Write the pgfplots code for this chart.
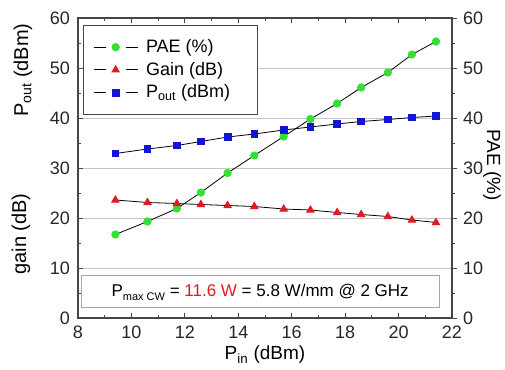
\documentclass[border=0pt]{standalone}
\usepackage{fontspec}
\setmainfont{Liberation Sans}
\usepackage{pgfplots}
\pgfplotsset{compat=1.18}
\definecolor{paegreen}{RGB}{50,225,50}
\definecolor{gainred}{RGB}{225,25,35}
\definecolor{poutblue}{RGB}{20,20,215}
\definecolor{axisgray}{RGB}{70,70,70}
\begin{document}
\fontsize{18bp}{21bp}\selectfont
\begin{tikzpicture}
\pgfplotsset{
  mylegimg/.style={legend image code/.code={
    \draw[black,line width=0.8pt] (0bp,0bp) -- (12bp,0bp);
    \draw[black,line width=0.8pt] (32bp,0bp) -- (44bp,0bp);
    \draw[##1] plot coordinates {(22bp,0bp)};}},
}
\begin{axis}[
  scale only axis, width=374bp, height=300bp,
  at={(0,0)}, anchor=south west,
  xmin=8, xmax=22, ymin=0, ymax=60,
  xtick={8,10,...,22}, ytick={0,10,...,60},
  minor x tick num=1, minor y tick num=1,
  tick align=inside, xtick pos=both, ytick pos=left,
  major tick length=5bp, minor tick length=3bp,
  axis line style={axisgray, line width=1.2pt},
  every tick/.style={axisgray, line width=0.9pt},
  ymajorgrids, grid style={gray!45, line width=0.8pt},
  tick label style={font=\fontsize{18bp}{21bp}\selectfont, text=black!85},
  /pgf/number format/assume math mode=true,
  xticklabel style={yshift=-2bp},
  yticklabel style={xshift=-2bp},
  xlabel={P\textsubscript{in} (dBm)},
  xlabel style={font=\fontsize{19bp}{22bp}\selectfont, yshift=5bp},
  legend style={at={(rel axis cs:0.013,0.977)}, anchor=north west,
    draw=axisgray, line width=0.8pt, fill=white,
    font=\fontsize{18bp}{21bp}\selectfont,
    inner xsep=10bp, inner ysep=12bp, row sep=3bp, column sep=6bp,
    legend cell align=left},
  mylegimg,
]
\addplot[black, line width=0.8pt, mark=*, mark size=3.7bp,
  mark options={solid, draw=paegreen, fill=paegreen}] coordinates {
(9.4,16.7) (10.6,19.3) (11.7,21.9) (12.6,25.1) (13.6,29.0) (14.6,32.5)
(15.7,36.3) (16.7,39.8) (17.7,42.9) (18.6,46.1) (19.6,49.1) (20.5,52.7) (21.4,55.3)};
\addlegendentry{PAE (\%)}
\addplot[black, line width=0.8pt, mark=triangle*, mark size=4.2bp,
  mark options={solid, draw=gainred, fill=gainred}] coordinates {
(9.4,23.6) (10.6,23.1) (11.7,22.9) (12.6,22.7) (13.6,22.5) (14.6,22.3)
(15.7,21.8) (16.7,21.6) (17.7,21.1) (18.6,20.7) (19.6,20.3) (20.5,19.6) (21.4,19.1)};
\addlegendentry{Gain (dB)}
\addplot[black, line width=0.8pt, mark=square*, mark size=3.3bp,
  mark options={solid, draw=poutblue, fill=poutblue}] coordinates {
(9.4,32.9) (10.6,33.8) (11.7,34.5) (12.6,35.3) (13.6,36.2) (14.6,36.8)
(15.7,37.6) (16.7,38.2) (17.7,38.8) (18.6,39.3) (19.6,39.7) (20.5,40.1) (21.4,40.4)};
\addlegendentry{P\textsubscript{out} (dBm)\hspace{15bp}\rule[-14bp]{0pt}{1bp}}
\node[draw=gray!70, line width=1pt, fill=white, minimum width=358bp, minimum height=32bp,
  inner sep=0pt, font=\fontsize{17bp}{20bp}\selectfont]
  at (rel axis cs:0.487,0.087)
  {P\raisebox{-4bp}{\fontsize{11bp}{12bp}\selectfont max CW} = \textcolor{gainred}{11.6 W} = 5.8 W/mm @ 2 GHz};
\end{axis}
\begin{axis}[
  scale only axis, width=374bp, height=300bp,
  at={(0,0)}, anchor=south west,
  xmin=8, xmax=22, ymin=0, ymax=60,
  axis x line=none, axis y line*=right,
  ytick={0,10,...,60}, minor y tick num=1,
  tick align=outside,
  major tick length=5bp, minor tick length=3bp,
  axis line style={axisgray, line width=1.2pt, -},
  every tick/.style={axisgray, line width=0.9pt},
  tick label style={font=\fontsize{18bp}{21bp}\selectfont, text=black!85},
  /pgf/number format/assume math mode=true,
]
\addplot[draw=none] coordinates {(8,0)};
\end{axis}
\node[rotate=90, font=\fontsize{20bp}{23bp}\selectfont] at (-55bp,248bp) {P\textsubscript{out} (dBm)};
\node[rotate=90, font=\fontsize{20bp}{23bp}\selectfont] at (-57bp,84bp) {gain (dB)};
\node[rotate=-90, font=\fontsize{19bp}{22bp}\selectfont] at (414bp,153bp) {PAE (\%)};
\pgfresetboundingbox
\path (-78bp,-52bp) rectangle (427bp,318bp);
\end{tikzpicture}
\end{document}
